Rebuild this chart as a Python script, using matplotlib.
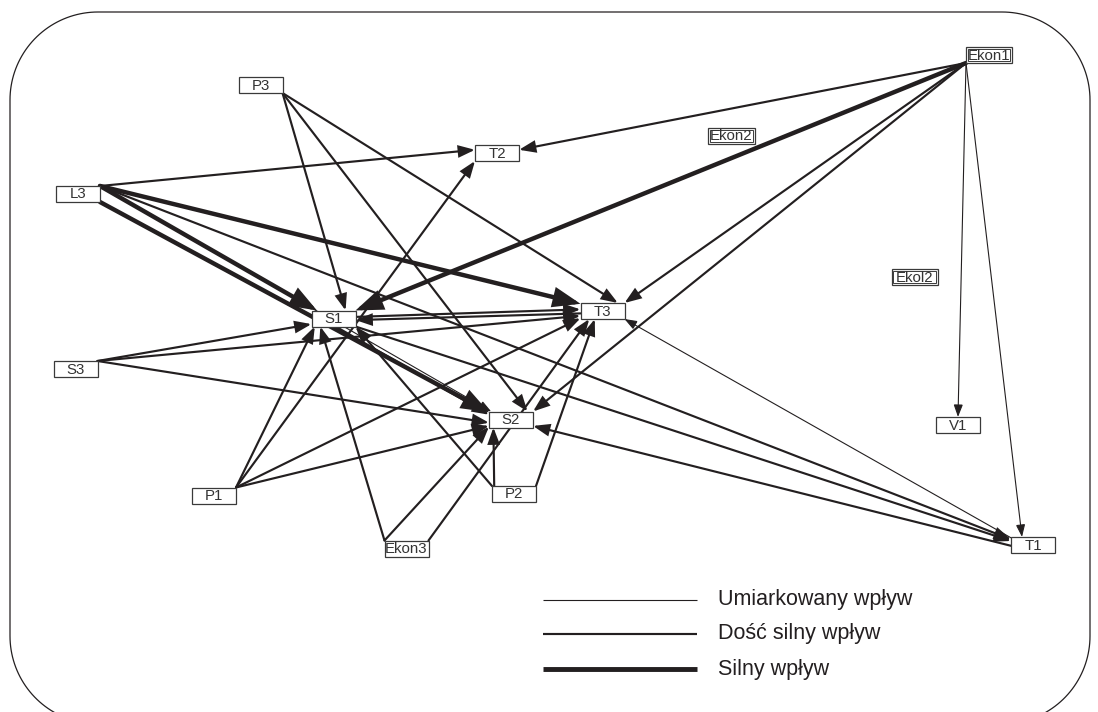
import matplotlib
matplotlib.use('Agg')
import numpy as np
import matplotlib.pyplot as plt
from matplotlib.patches import FancyArrowPatch, Rectangle, ArrowStyle, Polygon

plt.rcParams['font.family'] = ['Liberation Sans', 'DejaVu Sans']

# ---------------- data ----------------
nodes = ['P3', 'L3', 'T2', 'Ekon2', 'Ekon1', 'Ekol2', 'S1', 'T3', 'S3',
         'S2', 'V1', 'P1', 'P2', 'Ekon3', 'T1']

edge_src = ['L3', 'L3', 'L3', 'L3', 'L3', 'L3',
            'P3', 'P3', 'P3',
            'Ekon1', 'Ekon1', 'Ekon1', 'Ekon1', 'Ekon1', 'Ekon1',
            'S1', 'T3', 'S1', 'S1',
            'S3', 'S3', 'S3',
            'P1', 'P1', 'P1', 'P1',
            'Ekon3', 'Ekon3', 'Ekon3',
            'P2', 'P2', 'P2',
            'T1', 'T1']
edge_dst = ['T2', 'T3', 'S1', 'S2', 'S2', 'T1',
            'S1', 'S2', 'T3',
            'T2', 'S1', 'T3', 'S2', 'V1', 'T1',
            'T3', 'S1', 'S2', 'T1',
            'S1', 'T3', 'S2',
            'S1', 'T2', 'T3', 'S2',
            'S1', 'S2', 'T3',
            'S2', 'T3', 'S1',
            'S2', 'T3']
# 1 = umiarkowany, 2 = dość silny, 3 = silny
edge_strength = [2, 3, 3, 1, 3, 2,
                 2, 2, 2,
                 2, 3, 2, 2, 1, 1,
                 2, 2, 2, 2,
                 2, 2, 2,
                 2, 2, 2, 2,
                 2, 2, 2,
                 2, 2, 2,
                 2, 1]

legend_labels = ['Umiarkowany wpływ', 'Dość silny wpływ', 'Silny wpływ']
legend_strength = [1, 2, 3]

# ---------------- layout (pixel space) ----------------
node_xy = {
    'P3': (260.5, 85), 'L3': (78, 194), 'T2': (497, 153), 'Ekon2': (731.5, 136),
    'Ekon1': (989, 55), 'Ekol2': (914.5, 277), 'S1': (333.5, 318.5),
    'T3': (602.5, 311), 'S3': (75.5, 369), 'S2': (511, 419.5), 'V1': (958, 425),
    'P1': (214, 495.5), 'P2': (514, 494), 'Ekon3': (406.5, 548.5), 'T1': (1033, 545),
}
node_w = {'Ekon1': 46, 'Ekon2': 47, 'Ekol2': 46}
BOX_W, BOX_H = 44, 16
double_border = {'Ekon1', 'Ekon2', 'Ekol2'}

# anchor points on the source / target boxes (fractions of half width / half height)
src_anchor = [(1, -1), (1, -1), (1, -1), (1, -1), (1, 1), (1, -1),
              (1, 1), (1, 1), (1, 1),
              (-1, 1), (-1, 1), (-1, 1), (-1, 1), (-1, 1), (-1, 1),
              (1, -0.2), (-1, 0.3), (0.1, 1), (1, 1),
              (1, -1), (1, -1), (1, -1),
              (1, -1), (1, -1), (1, -1), (1, -1),
              (-1, -1), (-1, -1), (1, -1),
              (-0.9, -1), (1, -1), (-1, -1),
              (-1, 0.1), (-1, -0.9)]
dst_anchor = [(-1, -0.4), (-1, -0.9), (-0.75, -1), (-0.9, -1), (-1, -0.9), (-1, -0.7),
              (0.55, -1), (0.75, -1), (0.7, -1),
              (1, -0.4), (1, -1), (1, -1), (1, -1), (0, -1), (-0.5, -1),
              (-1, -0.2), (1, 0.2), (-1, -0.6), (-1, -0.5),
              (-1, 0.7), (-1, 0.6), (-1, 0.4),
              (-0.85, 1), (-1, 1), (-1, 0.9), (-1, 0.8),
              (-0.6, 1), (-1, 0.9), (-0.6, 1),
              (-0.8, 1), (-0.35, 1), (1, 1),
              (1, 0.8), (1, 1)]

INK = '#231f20'
style = {
    1: dict(lw=0.8, hl=7.5, hw=2.8),
    2: dict(lw=1.55, hl=9.5, hw=3.5),
    3: dict(lw=3.2, hl=14.0, hw=5.2),
}


def anchor_point(name, frac):
    cx, cy = node_xy[name]
    w = node_w.get(name, BOX_W)
    return (cx + frac[0] * w / 2, cy + frac[1] * BOX_H / 2)


fig = plt.figure(figsize=(10.98, 7.12), dpi=100)
ax = fig.add_axes([0, 0, 1, 1])
ax.set_xlim(0, 1098)
ax.set_ylim(712, 0)
ax.axis('off')

# outer rounded frame (circular corners)
x0, x1, y0, y1, R = 10, 1090, 12, 724, 88
t = np.linspace(0, np.pi / 2, 40)
fx, fy = [], []
fx += list(x0 + R - R * np.cos(t)); fy += list(y0 + R - R * np.sin(t))
fx += list(x1 - R + R * np.sin(t)); fy += list(y0 + R - R * np.cos(t))
fx += list(x1 - R + R * np.cos(t)); fy += list(y1 - R + R * np.sin(t))
fx += list(x0 + R - R * np.sin(t)); fy += list(y1 - R + R * np.cos(t))
ax.add_patch(Polygon(np.column_stack([fx, fy]), closed=True, facecolor='none',
                     edgecolor=INK, lw=0.9, zorder=1, joinstyle='round'))

# edges
for s, d, k, sa, da in zip(edge_src, edge_dst, edge_strength, src_anchor, dst_anchor):
    st = style[k]
    p0 = anchor_point(s, sa)
    p1 = anchor_point(d, da)
    arr = FancyArrowPatch(p0, p1,
                          arrowstyle=ArrowStyle('-|>', head_length=st['hl'], head_width=st['hw']),
                          mutation_scale=1, lw=st['lw'], color=INK,
                          shrinkA=0, shrinkB=0, zorder=3, joinstyle='miter')
    ax.add_patch(arr)

# nodes
for n in nodes:
    cx, cy = node_xy[n]
    w = node_w.get(n, BOX_W)
    ax.add_patch(Rectangle((cx - w / 2, cy - BOX_H / 2), w, BOX_H, facecolor='white',
                           edgecolor='#3a3a3a', lw=0.9, zorder=5))
    if n in double_border:
        ax.add_patch(Rectangle((cx - w / 2 + 1.6, cy - BOX_H / 2 + 1.6), w - 3.2, BOX_H - 3.2,
                               facecolor='none', edgecolor='#3a3a3a', lw=0.7, zorder=6))
    ax.text(cx, cy + 0.5, n, ha='center', va='center', fontsize=10.8, color='#333333', zorder=7)

# legend
leg_y = [600, 634, 669]
for lab, k, y in zip(legend_labels, legend_strength, leg_y):
    ax.plot([543, 697], [y, y], color=INK, lw=style[k]['lw'] * (1.1 if k == 3 else 1),
            solid_capstyle='butt', zorder=3)
    ax.text(718, y, lab, ha='left', va='center', fontsize=15.5, color='#231f20', zorder=3)

fig.savefig('out.png', dpi=100)
